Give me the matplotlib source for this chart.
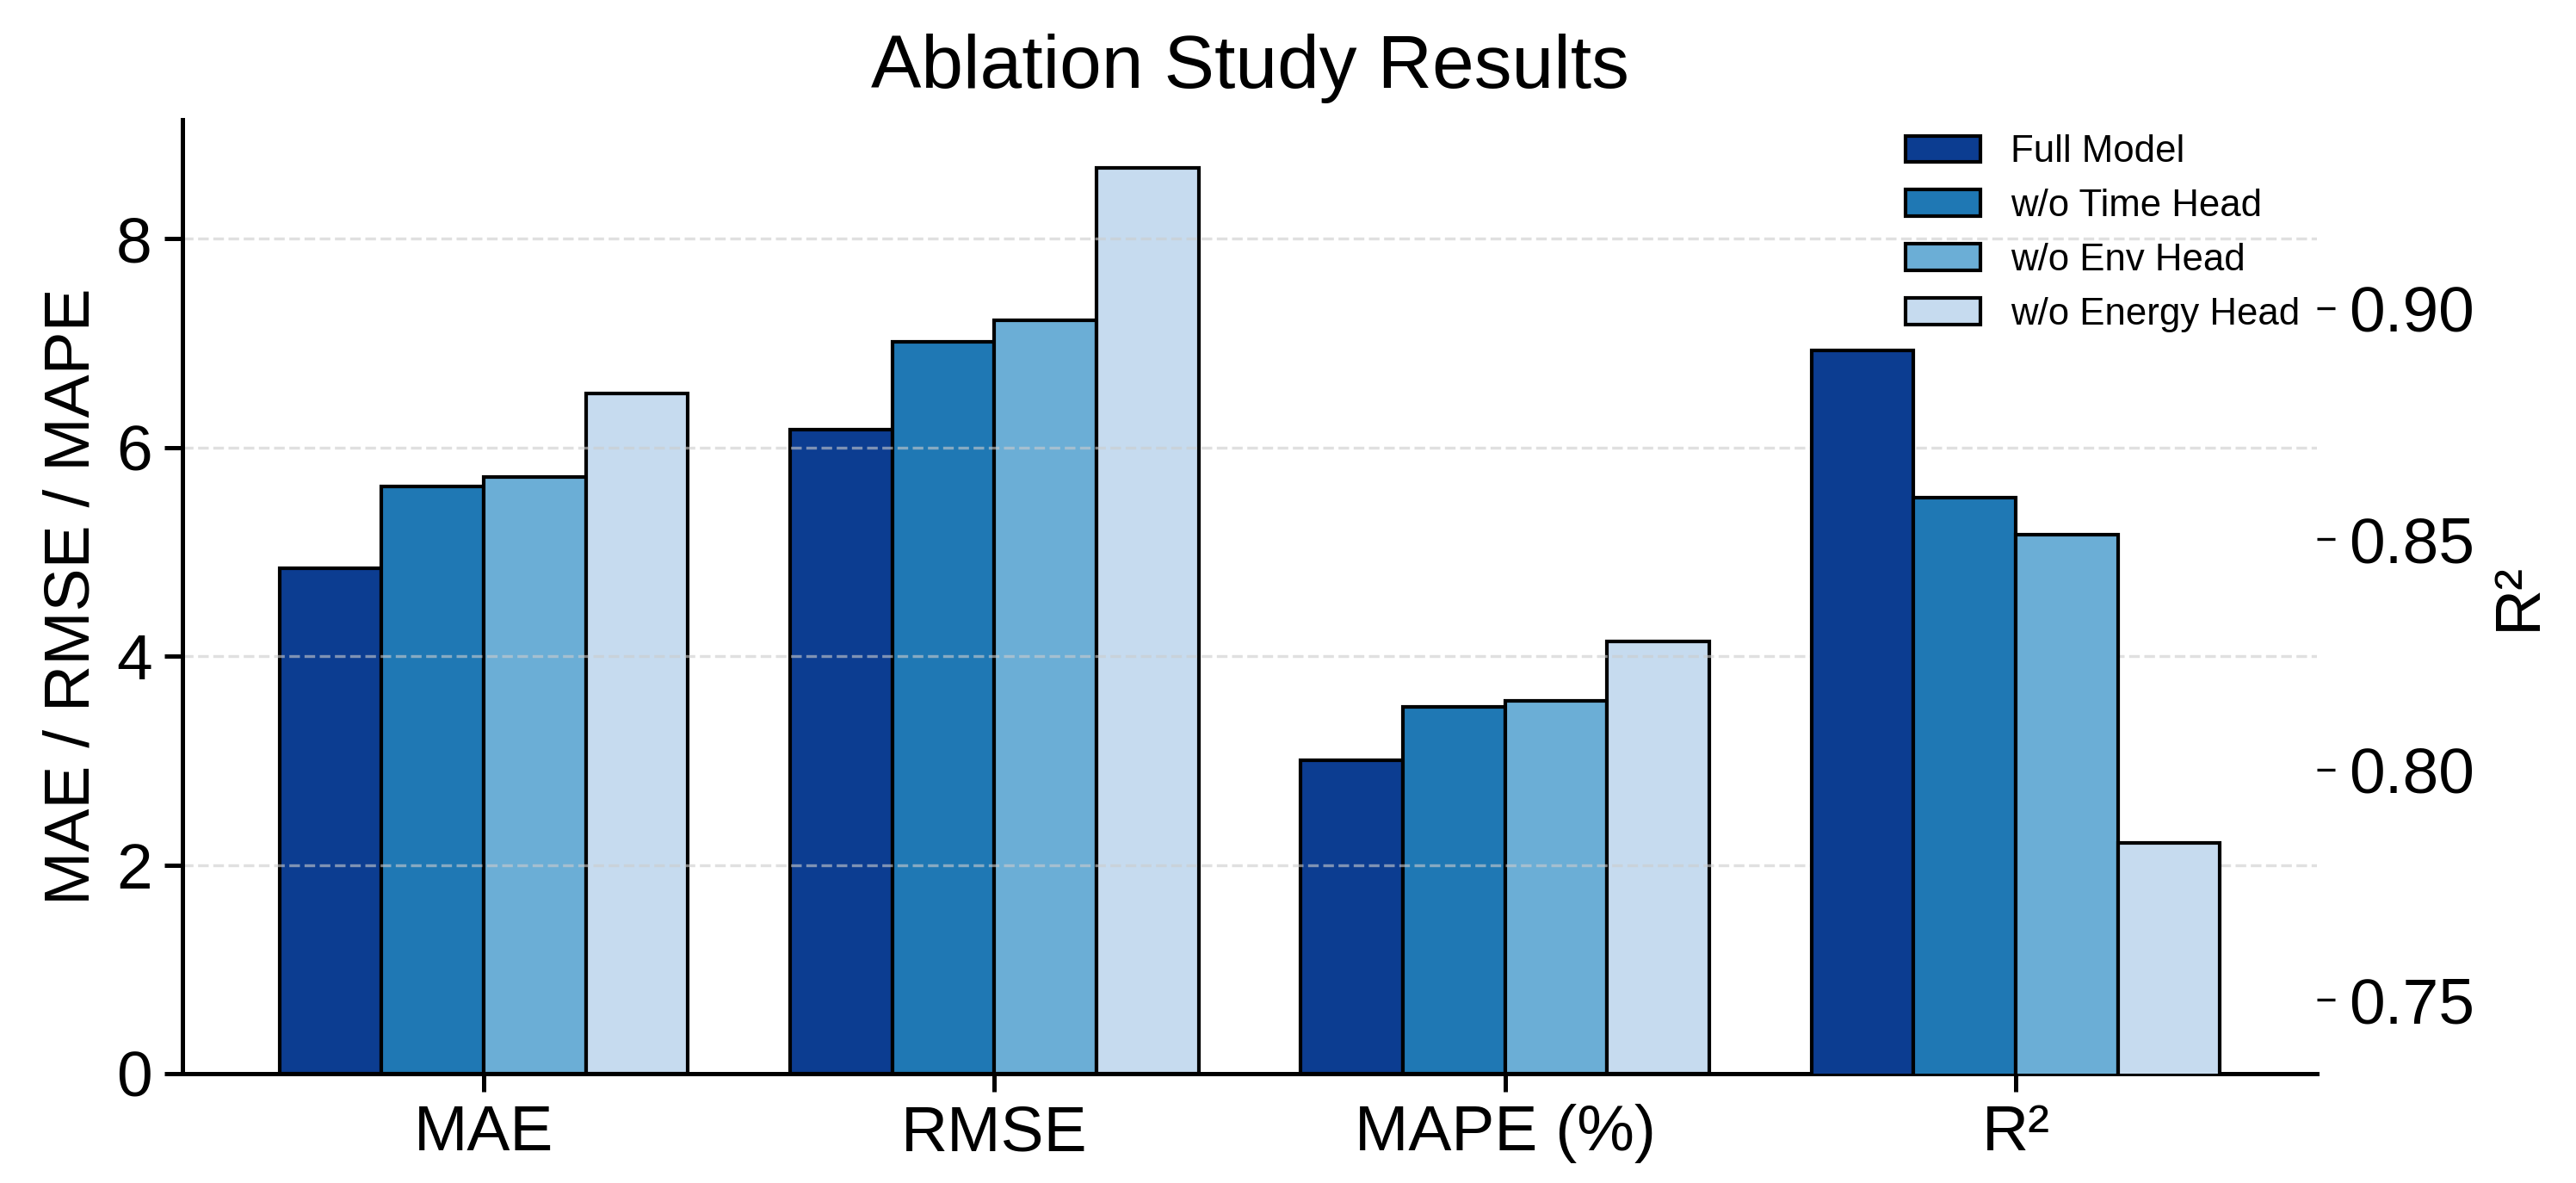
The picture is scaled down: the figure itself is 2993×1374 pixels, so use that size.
import matplotlib
matplotlib.use("Agg")
import matplotlib.pyplot as plt
import numpy as np

plt.rcParams['font.family'] = ['Liberation Sans', 'DejaVu Sans']

metrics = ["MAE", "RMSE", "MAPE (%)", "R²"]
models = ["Full Model", "w/o Time Head", "w/o Env Head", "w/o Energy Head"]
mae = [4.84, 5.63, 5.72, 6.52]
rmse = [6.17, 7.01, 7.22, 8.68]
mape = [3.00, 3.51, 3.57, 4.14]
r2 = [0.891, 0.859, 0.851, 0.784]
colors = ["#0c3d91", "#1f78b4", "#6baed6", "#c6dbef"]

fig = plt.figure(figsize=(2993 / 300, 1374 / 300), dpi=300)
ax = fig.add_axes([212 / 2993, 127 / 1374, (2692 - 212) / 2993, (1247 - 139) / 1374])
ax2 = ax.twinx()

x = np.arange(len(metrics))
width = 0.2
offsets = [-1.5 * width, -0.5 * width, 0.5 * width, 1.5 * width]

for i, m in enumerate(models):
    vals = [mae[i], rmse[i], mape[i]]
    ax.bar(x[:3] + offsets[i], vals, width, color=colors[i], edgecolor='black',
           linewidth=1.0, label=m)
    ax2.bar(x[3] + offsets[i], r2[i], width, color=colors[i], edgecolor='black',
            linewidth=1.0)

ax.set_xlim(-0.59, 3.59)
ax.set_ylim(0, 9.14)
ax2.set_ylim(min(r2) - 0.05, max(r2) + 0.05)
ax2.set_yticks([0.75, 0.80, 0.85, 0.90])
ax2.set_yticklabels(["0.75", "0.80", "0.85", "0.90"])

ax.set_xticks(x)
ax.set_xticklabels(metrics, fontsize=18)
ax.set_yticks([0, 2, 4, 6, 8])
ax.tick_params(axis='y', labelsize=18, width=1.2, length=5)
ax.tick_params(axis='x', labelsize=18, width=1.2, length=5)
ax2.tick_params(axis='y', labelsize=18, width=0.8, length=5, pad=4)

ax.set_ylabel("MAE / RMSE / MAPE", fontsize=18)
ax2.set_ylabel("R²", fontsize=18)
ax.set_title("Ablation Study Results", fontsize=21, pad=9)

ax.grid(axis='y', linestyle='--', color='#cccccc', alpha=0.6, linewidth=0.8)

for s in ['top', 'right']:
    ax.spines[s].set_visible(False)
for s in ['top', 'right', 'left', 'bottom']:
    ax2.spines[s].set_visible(False)
ax.spines['left'].set_linewidth(1.2)
ax.spines['bottom'].set_linewidth(1.2)

ax2.legend(*ax.get_legend_handles_labels(), loc='upper right', frameon=False,
           fontsize=10.5, bbox_to_anchor=(1.008, 1.02))

fig.savefig("out.png", dpi=300)
